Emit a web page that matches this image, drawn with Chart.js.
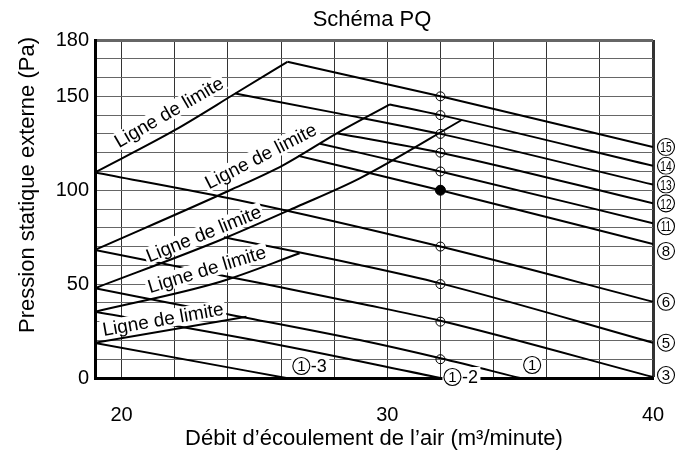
<!DOCTYPE html>
<html lang="fr">
<head>
<meta charset="UTF-8">
<title>Schéma PQ</title>
<script src="https://cdn.jsdelivr.net/npm/chart.js"></script>
<style>
  html, body { margin: 0; padding: 0; background: #fff; }
  #wrap { width: 693px; height: 454px; }
</style>
</head>
<body>
<div id="wrap"><canvas id="pq"></canvas></div>
<script>
// axis ticks
const flowTicks = [20, 22, 24, 26, 28, 30, 32, 34, 36, 38, 40];
const flowLabels = [20, 30, 40];
const pressTicks = [0, 10, 20, 30, 40, 50, 60, 70, 80, 90, 100, 110, 120, 130, 140, 150, 160, 170, 180];
const pressLabels = [0, 50, 100, 150, 180];

// fan curves: [débit m3/min, pression Pa]
const tap15 = [[26.24, 168.4], [32, 150], [40, 123]];
const tap14 = [[30.1, 145.7], [32, 140], [40, 113]];
const tap13 = [[24.28, 151.5], [28.2, 140.8], [32, 130], [40, 103]];
const tap12 = [[28.1, 130.3], [32, 120], [40, 93]];
const tap11 = [[27.47, 124.8], [32, 110], [40, 82.4]];
const tap8 = [[26.65, 118.3], [28.6, 111.7], [32, 100], [40, 71.4]];
const tap6 = [[19, 109.5], [24.1, 95.6], [32, 70], [40, 40.6]];
const tap5 = [[23.85, 75], [28.96, 60.2], [32, 50.4], [40, 18.8]];
const tap3 = [[19, 68.2], [24.1, 53.7], [28.96, 39.7], [32, 30.5], [40, 0.5]];
const tap1 = [[19, 47.8], [23.8, 34.5], [28.96, 20.2], [32, 10.5], [35, 0]];
const tap1b = [[19, 35.3], [25.6, 18.5], [32, 0]];
const tap1c = [[19, 18.6], [26.2, 0]];

// "Ligne de limite" curves
const limit1 = [[19, 109.5], [22, 132], [24.28, 151.5], [26.24, 168.4]];
const limit2 = [[19, 68.2], [24.1, 100.1], [26.09, 113.4], [28.1, 130.3], [30.1, 145.7]];
const limit3 = [[19, 47.8], [23.72, 73.5], [26.6, 91.2], [28.96, 106.3], [32.8, 137.4]];
const limit4 = [[19, 35.3], [23.72, 51.3], [26.7, 66.4]];
const limit5 = [[19, 18.8], [24.7, 32.6]];

// operating points at 32 m3/min
const pointFlow = 32;
const openPress = [150, 140, 130, 120, 110, 70, 50, 30, 10];
const filledPress = [100];

const limitText = 'Ligne de limite';
const limitLabels = [
  {q: 21.78, p: 141.6, angle: -30},
  {q: 25.24, p: 118.2, angle: -27},
  {q: 23.09, p: 76.8, angle: -22},
  {q: 23.21, p: 57.9, angle: -17},
  {q: 21.56, p: 31.3, angle: -10}
];

// tags at the right edge
const rightTags = [
  {curve: tap15, tag: '15', dy: 0},
  {curve: tap14, tag: '14', dy: 0},
  {curve: tap13, tag: '13', dy: 0},
  {curve: tap12, tag: '12', dy: 0},
  {curve: tap11, tag: '11', dy: 3},
  {curve: tap8, tag: '8', dy: 7},
  {curve: tap6, tag: '6', dy: 0},
  {curve: tap5, tag: '5', dy: 0},
  {curve: tap3, tag: '3', dy: -2}
];
// tags where the low curves reach 0 Pa
const bottomTags = [
  {curve: tap1c, tag: '1', suffix: '-3', dx: 15, dy: -12},
  {curve: tap1b, tag: '1', suffix: '-2', dx: 12, dy: -1},
  {curve: tap1, tag: '1', suffix: '', dx: 12, dy: -13}
];

const textFont = '"Liberation Sans", Arial, sans-serif';

function toXY(arr) {
  return arr.map(p => ({x: p[0], y: p[1]}));
}

function curveSet(arr) {
  return {
    data: toXY(arr),
    showLine: true,
    borderColor: '#000',
    borderWidth: 2,
    pointRadius: 0,
    cubicInterpolationMode: 'monotone'
  };
}

const curves = [tap15, tap14, tap13, tap12, tap11, tap8, tap6, tap5, tap3, tap1, tap1b, tap1c,
                limit1, limit2, limit3, limit4, limit5];

const datasets = [
  {
    data: filledPress.map(p => ({x: pointFlow, y: p})),
    pointRadius: 5,
    pointBackgroundColor: '#000',
    pointBorderColor: '#000',
    pointBorderWidth: 1,
    showLine: false
  },
  {
    data: openPress.map(p => ({x: pointFlow, y: p})),
    pointRadius: 4.5,
    pointBackgroundColor: 'rgba(0,0,0,0)',
    pointBorderColor: '#000',
    pointBorderWidth: 1,
    showLine: false
  }
].concat(curves.map(curveSet));

// circled number, optionally followed by a suffix such as "-2"
function drawTag(ctx, cx, cy, num, suffix) {
  const r = 8.5;
  ctx.font = '18px ' + textFont;
  const sw = suffix ? ctx.measureText(suffix).width + 2 : 0;
  ctx.fillStyle = '#fff';
  ctx.fillRect(cx - r - 1.5, cy - r - 1.5, 2 * r + 3 + sw, 2 * r + 3);

  ctx.strokeStyle = '#000';
  ctx.lineWidth = 1.1;
  ctx.beginPath();
  ctx.arc(cx, cy, r, 0, Math.PI * 2);
  ctx.stroke();

  ctx.fillStyle = '#000';
  ctx.textAlign = 'center';
  ctx.textBaseline = 'middle';
  ctx.font = '15px ' + textFont;
  ctx.save();
  ctx.translate(cx, cy + 1);
  if (num.length > 1) ctx.scale(0.68, 1);
  ctx.fillText(num, 0, 0);
  ctx.restore();

  if (suffix) {
    ctx.textAlign = 'left';
    ctx.font = '18px ' + textFont;
    ctx.fillText(suffix, cx + r + 1, cy + 1);
  }
}

const pqText = {
  id: 'pqText',
  afterDatasetsDraw(chart) {
    const {ctx, scales: {x, y}} = chart;
    ctx.save();

    // limit labels on a white box, rotated along their lines
    ctx.font = '19px ' + textFont;
    ctx.textAlign = 'center';
    ctx.textBaseline = 'middle';
    const w = ctx.measureText(limitText).width;
    limitLabels.forEach(l => {
      ctx.save();
      ctx.translate(x.getPixelForValue(l.q), y.getPixelForValue(l.p));
      ctx.rotate(l.angle * Math.PI / 180);
      ctx.fillStyle = '#fff';
      ctx.fillRect(-w / 2 - 2, -9, w + 4, 18);
      ctx.fillStyle = '#000';
      ctx.fillText(limitText, 0, 1);
      ctx.restore();
    });

    rightTags.forEach(t => {
      const last = t.curve[t.curve.length - 1];
      drawTag(ctx, x.getPixelForValue(last[0]) + 13, y.getPixelForValue(last[1]) + t.dy, t.tag, '');
    });

    bottomTags.forEach(t => {
      const last = t.curve[t.curve.length - 1];
      drawTag(ctx, x.getPixelForValue(last[0]) + t.dx, y.getPixelForValue(last[1]) + t.dy, t.tag, t.suffix);
    });

    ctx.restore();
  },
  afterDraw(chart) {
    const {ctx, chartArea} = chart;
    ctx.save();
    ctx.fillStyle = '#000';
    ctx.textAlign = 'center';
    ctx.textBaseline = 'middle';

    // chart title, centred over the plot frame
    ctx.font = '22px ' + textFont;
    ctx.fillText('Schéma PQ', (chartArea.left + chartArea.right) / 2 - 2, 20);

    // y title, a bit above the plot middle like the original
    ctx.translate(28, 185);
    ctx.rotate(-Math.PI / 2);
    ctx.fillText('Pression statique externe (Pa)', 0, 0);
    ctx.restore();
  }
};

new Chart(document.getElementById('pq'), {
  type: 'scatter',
  data: {datasets: datasets},
  plugins: [pqText],
  options: {
    responsive: true,
    maintainAspectRatio: false,
    animation: false,
    layout: {padding: {left: 0, right: 40, top: 40, bottom: 0}},
    plugins: {
      legend: {display: false},
      tooltip: {enabled: false},
      title: {display: false}
    },
    scales: {
      x: {
        type: 'linear',
        min: 19,
        max: 40,
        afterBuildTicks: axis => { axis.ticks = flowTicks.map(v => ({value: v})); },
        afterFit: axis => { axis.height = 76; },
        ticks: {
          autoSkip: false,
          maxRotation: 0,
          padding: 25,
          color: '#000',
          font: {family: textFont, size: 20},
          callback: v => flowLabels.includes(v) ? String(v) : ''
        },
        grid: {
          color: '#333',
          lineWidth: c => c.tick && c.tick.value === 40 ? 3 : 1,
          drawTicks: false
        },
        border: {display: true, color: '#000', width: 3},
        title: {
          display: true,
          text: 'Débit d’écoulement de l’air (m³/minute)',
          color: '#000',
          font: {family: textFont, size: 22},
          padding: {top: 0, bottom: 2}
        }
      },
      y: {
        type: 'linear',
        min: 0,
        max: 180,
        afterBuildTicks: axis => { axis.ticks = pressTicks.map(v => ({value: v})); },
        afterFit: axis => { axis.width = 95; },
        ticks: {
          autoSkip: false,
          padding: 6,
          color: '#000',
          font: {family: textFont, size: 20},
          callback: v => pressLabels.includes(v) ? String(v) : ''
        },
        grid: {
          color: '#666',
          lineWidth: c => c.tick && c.tick.value === 180 ? 3 : 1,
          drawTicks: false
        },
        border: {display: true, color: '#000', width: 3}
      }
    }
  }
});
</script>
</body>
</html>
